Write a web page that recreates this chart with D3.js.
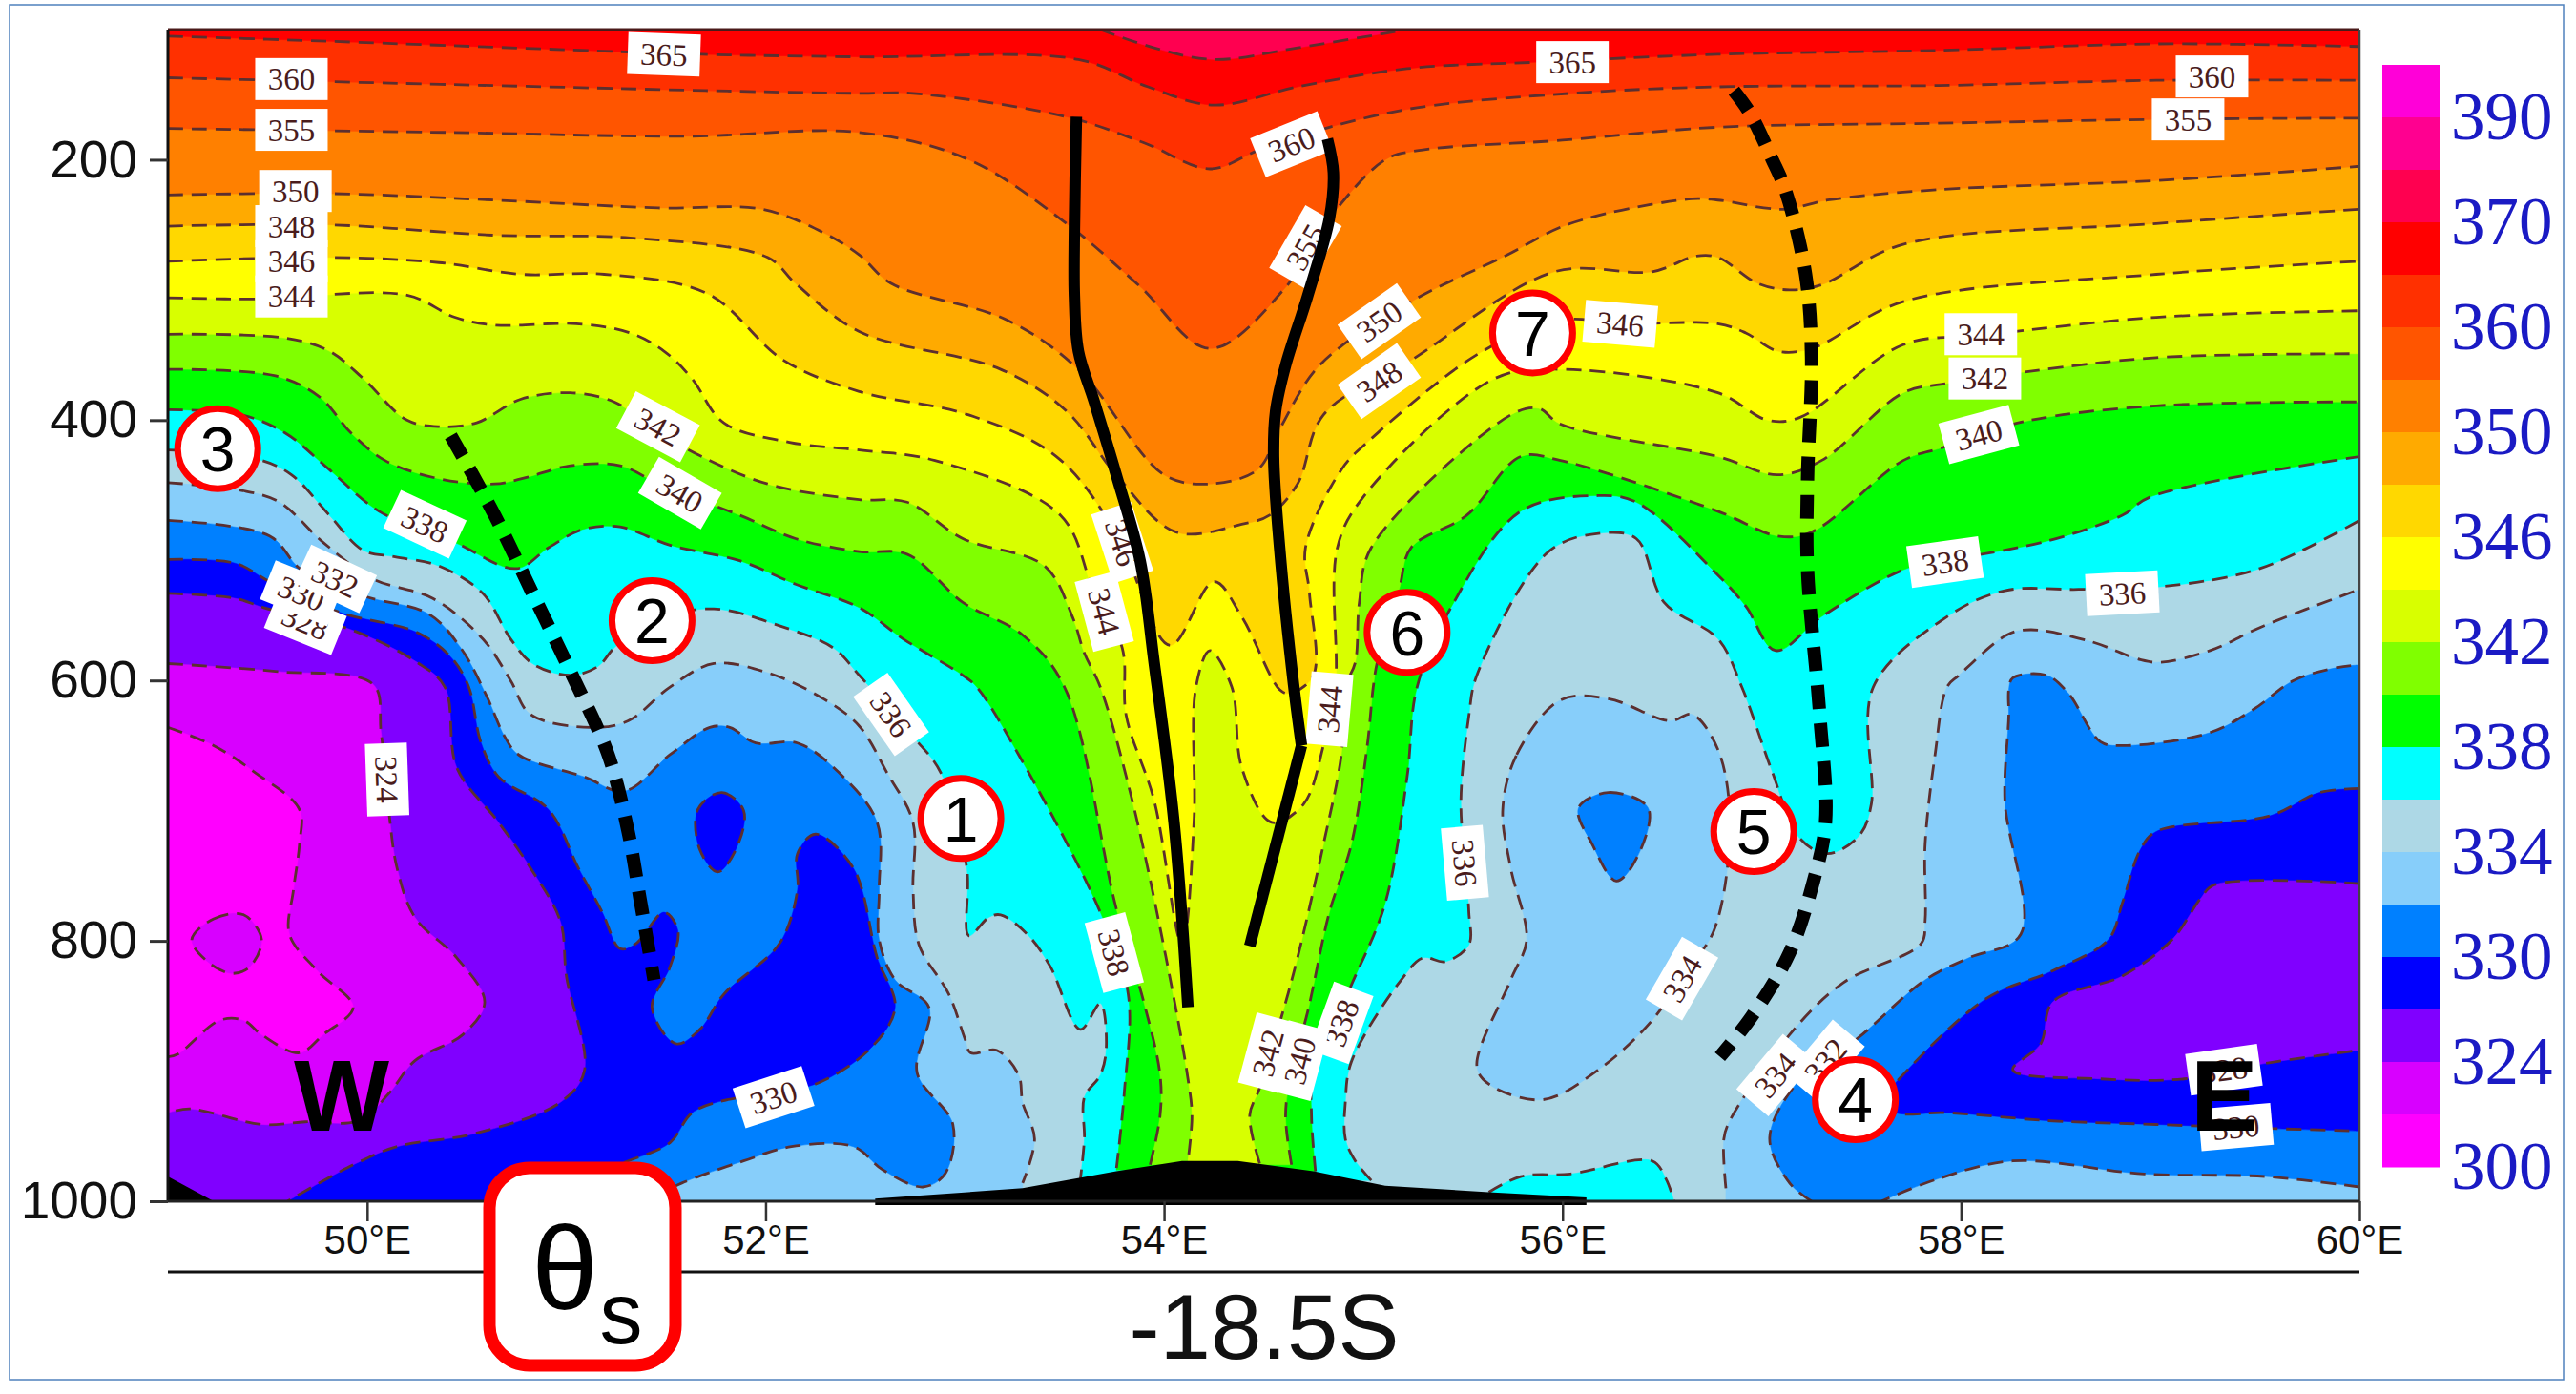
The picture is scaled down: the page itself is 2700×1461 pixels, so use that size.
<!DOCTYPE html>
<html><head><meta charset="utf-8">
<style>html,body{margin:0;padding:0;background:#fff}svg{display:block}</style>
<script src="https://cdnjs.cloudflare.com/ajax/libs/d3/7.8.5/d3.min.js"></script>
</head><body><script>
// ---------- colour scale ----------
const levels=[300,320,324,328,330,332,334,336,338,340,342,344,346,348,350,355,360,365,370,380,390];
const bandColors=["#FF00FF","#D800FF","#8000FF","#0000FF","#0080FF","#87CEFA","#ADD8E6","#00FFFF","#00FF00","#80FF00","#D8FF00","#FFFF00","#FFD800","#FFAA00","#FF8000","#FF5500","#FF3000","#FF0000","#FF0050","#FF0090","#FF00D8"];
const barLabels=[390,370,360,350,346,342,338,334,330,324,300];
const lonTicks=[50,52,54,56,58,60];
const presTicks=[200,400,600,800,1000];
// ---------- traced isentropes: [longitude E, pressure hPa] ----------
const iso370=[[53.68,100],[53.95,114],[54.25,123],[54.67,114],[55.22,100]];
const iso365=[[49,105],[49.81,109],[50.91,115],[51.68,119],[52.47,121],[53.57,123],[53.92,144],[54.25,158],[54.67,144],[55.22,130],[55.88,125],[56.78,119],[57.88,116],[58.98,111],[60,113]];
const iso360=[[49,137],[49.81,140],[50.91,144],[51.74,147],[52.47,149],[52.74,149],[53.51,167],[53.9,187],[54.23,207],[54.47,193],[54.83,175],[55.27,160],[56.04,149],[56.78,144],[57.88,143],[58.98,139],[60,139]];
const iso355=[[49,176],[50.4,179],[51.6,182],[52.47,179],[53.02,200],[53.51,249],[53.87,296],[54.23,345],[54.61,298],[54.83,245],[55.11,200],[55.27,193],[56,185],[56.78,175],[57.88,172],[58.98,169],[60,168]];
const iso350=[[49,227],[49.81,226],[50.64,231],[51.46,237],[51.98,238],[52.29,256],[52.47,273],[52.63,295],[53.21,323],[53.57,361],[54,442],[54.23,449],[54.47,438],[54.58,407],[54.78,358],[55.24,309],[55.71,274],[56.04,249],[56.65,230],[56.78,231],[57.11,238],[57.33,231],[57.88,223],[58.98,216],[60,205]];
const iso348=[[49,251],[49.81,250],[50.64,258],[51.32,260],[52.01,275],[52.15,295],[52.47,332],[53.18,361],[53.51,393],[53.76,442],[54.06,486],[54.39,480],[54.53,473],[54.67,449],[54.8,396],[55.24,354],[55.96,286],[56.45,286],[56.67,274],[56.78,275],[56.98,295],[57.14,300],[57.3,296],[57.71,265],[58.98,249],[60,238]];
const iso346=[[49,278],[49.81,275],[50.36,279],[50.77,288],[51.19,288],[51.71,303],[52.09,354],[52.47,378],[53.02,396],[53.46,428],[53.76,487],[54.03,573],[54.25,524],[54.39,551],[54.58,607],[54.63,610],[54.75,596],[54.73,533],[54.71,498],[54.89,438],[55.02,417],[55.6,347],[56.01,323],[56.29,326],[56.78,326],[56.92,333],[57.08,347],[57.25,345],[57.71,309],[58.98,288],[60,278]];
const iso344=[[49,306],[49.45,307],[50.2,304],[50.44,321],[50.64,327],[51.05,326],[51.32,333],[51.49,347],[51.63,368],[51.79,402],[52.12,417],[52.47,423],[52.85,431],[53.48,473],[53.65,533],[53.79,575],[53.81,627],[53.95,692],[54.09,803],[54.15,709],[54.16,605],[54.23,577],[54.34,605],[54.39,667],[54.54,709],[54.7,695],[54.8,650],[54.86,605],[54.87,498],[55,459],[55.66,368],[56.01,361],[56.78,379],[57.03,400],[57.19,398],[57.71,342],[58.1,335],[58.98,321],[60,316]];
const iso342L=[[49,334],[49.59,337],[49.81,347],[49.98,368],[50.2,400],[50.36,405],[50.55,402],[50.77,384],[51.02,379],[51.24,386],[51.46,409],[51.68,428],[52.01,449],[52.47,461],[52.71,463],[52.99,491],[53.4,512],[53.54,551],[53.6,579],[53.68,605],[53.84,692],[54.01,813],[54.12,906],[54.14,934],[54.12,969]];
const iso342R=[[54.48,971],[54.43,934],[54.48,913],[54.59,858],[54.67,813],[54.8,726],[54.89,657],[54.91,605],[54.96,586],[54.98,540],[55.04,498],[55.74,396],[55.88,391],[55.99,403],[56.78,428],[57.08,442],[57.3,431],[57.71,379],[57.92,372],[58.32,363],[58.98,352],[60,349]];
const iso340L=[[49,361],[49.54,366],[49.76,382],[49.92,410],[50.09,431],[50.36,445],[50.64,449],[50.8,444],[51.02,435],[51.27,435],[51.46,449],[51.57,456],[51.87,473],[52.15,491],[52.47,501],[52.71,503],[52.99,540],[53.29,565],[53.5,605],[53.76,775],[53.9,848],[53.98,903],[53.98,934],[53.93,972]];
const iso340R=[[54.64,972],[54.61,934],[54.64,900],[54.72,855],[54.83,778],[54.94,726],[55.02,650],[55.05,605],[55.07,586],[55.18,530],[55.24,498],[55.52,473],[55.79,428],[55.99,431],[56.78,470],[57.08,489],[57.25,486],[57.71,431],[57.91,421],[58.32,401],[58.98,389],[60,386]];
const iso338L=[[49,392],[49.37,396],[49.59,410],[49.81,438],[50.06,470],[50.44,494],[50.75,514],[50.91,498],[51.08,484],[51.27,482],[51.52,496],[51.87,508],[52.15,526],[52.47,544],[52.69,568],[52.99,596],[53.06,605],[53.27,657],[53.68,778],[53.82,841],[53.8,917],[53.76,976]];
const iso338R=[[54.76,977],[54.74,934],[54.75,900],[54.94,834],[55.11,771],[55.22,674],[55.27,605],[55.44,544],[55.79,470],[56.18,458],[56.37,463],[56.78,519],[56.92,543],[57.07,577],[57.3,551],[57.71,515],[57.92,508],[58.43,493],[58.81,473],[58.95,459],[60,428]];
const iso336L=[[49,423],[49.45,430],[49.62,442],[49.81,473],[49.98,500],[50.14,505],[50.36,512],[50.58,533],[50.72,568],[50.83,587],[51.02,596],[51.16,589],[51.24,575],[51.43,554],[51.74,545],[52.07,558],[52.34,575],[52.47,596],[52.74,643],[52.88,671],[53.01,744],[53.02,796],[53.12,782],[53.18,780],[53.32,796],[53.43,820],[53.58,868],[53.68,848],[53.71,882],[53.68,903],[53.6,920],[53.6,952],[53.58,983]];
const iso336R=[[55.04,984],[54.96,969],[54.91,952],[54.91,924],[54.94,893],[55.19,830],[55.3,813],[55.41,816],[55.53,803],[55.53,778],[55.51,740],[55.49,692],[55.53,627],[55.57,596],[55.93,501],[56.18,487],[56.37,491],[56.51,540],[56.78,568],[56.9,605],[57.05,669],[57.19,721],[57.33,733],[57.49,719],[57.55,695],[57.56,605],[57.93,551],[58.22,531],[58.59,530],[59,528],[59.5,514],[60,477]];
const iso336Patch=[[55.63,993],[55.79,981],[56.04,979],[56.45,969],[56.52,983],[56.56,1000]];
const iso334L=[[49,448],[49.37,454],[49.56,463],[49.78,494],[50.03,522],[50.33,537],[50.58,568],[50.72,600],[50.82,626],[51.12,636],[51.31,631],[51.52,605],[51.74,587],[52.01,594],[52.29,614],[52.47,635],[52.61,671],[52.74,709],[52.74,761],[52.77,803],[52.92,841],[53,875],[53.03,886],[53.16,884],[53.27,903],[53.29,924],[53.35,952],[53.29,986]];
const iso334C=[[55.7,699],[55.77,657],[55.99,615],[56.23,614],[56.54,631],[56.65,626],[56.78,653],[56.84,709],[56.76,792],[56.6,827],[56.45,861],[56.18,899],[55.9,922],[55.63,910],[55.57,896],[55.74,830],[55.82,799],[55.74,744]];
const iso334R=[[56.82,990],[56.81,952],[56.84,938],[57.14,872],[57.41,832],[57.8,802],[57.82,785],[57.82,726],[57.87,657],[57.93,605],[57.99,596],[58.23,565],[58.35,561],[58.65,570],[58.9,584],[59,586],[59.25,577],[59.52,558],[60,530]];
const iso332L=[[49,477],[49.51,489],[49.67,515],[49.98,535],[50.31,549],[50.47,575],[50.6,612],[50.69,643],[50.76,657],[51.09,674],[51.29,685],[51.52,657],[51.72,636],[51.82,636],[51.95,648],[52.16,648],[52.37,671],[52.56,709],[52.57,761],[52.57,799],[52.65,830],[52.82,851],[52.76,901],[52.94,941],[52.9,979],[52.79,989],[52.59,976],[52.44,958],[52.13,958],[51.89,969],[51.58,986],[51.4,1000]];
const iso332RA=[[57.25,1000],[57.14,986],[57.04,951],[57.2,905],[57.48,875],[57.82,830],[58.04,813],[58.3,795],[58.22,692],[58.24,627],[58.24,607],[58.26,598],[58.43,596],[58.54,610],[58.7,647],[58.81,650],[59.25,640],[59.47,622],[59.67,600],[59.89,590],[60,588]];
const iso332RB=[[60,989],[59.53,981],[58.92,979],[58.26,969],[57.88,983],[57.6,1000]];
const iso332Isle=[[56.08,698],[56.23,686],[56.43,698],[56.37,737],[56.27,754],[56.15,726]];
const iso330L=[[49,507],[49.34,510],[49.51,524],[49.87,548],[50.25,563],[50.42,582],[50.51,605],[50.57,647],[50.66,674],[50.91,699],[51.06,744],[51.18,778],[51.27,806],[51.35,802],[51.49,778],[51.56,792],[51.52,820],[51.43,851],[51.55,879],[51.67,868],[51.79,841],[52.07,802],[52.16,761],[52.16,733],[52.25,718],[52.44,744],[52.56,813],[52.65,851],[52.53,882],[52.25,910],[51.98,917],[51.64,931],[51.52,955],[51.31,969],[51,985],[50.9,1000]];
const iso330R=[[60,683],[59.8,686],[59.55,704],[58.98,716],[58.9,730],[58.81,771],[58.74,799],[58.46,823],[58.13,844],[57.69,906],[57.6,924],[57.67,932],[57.93,932],[58.43,938],[58.98,941],[59.53,944],[60,946]];
const iso330Isle=[[51.66,699],[51.78,686],[51.89,700],[51.85,730],[51.76,747],[51.67,730]];
const iso328L=[[49,533],[49.34,537],[49.48,544],[49.92,561],[50.25,586],[50.39,605],[50.45,667],[50.66,709],[50.82,744],[50.97,785],[51,827],[51.09,900],[50.97,924],[50.54,948],[50.15,958],[49.93,972],[49.6,1000]];
const iso328R=[[60,756],[59.27,757],[59.2,768],[59.06,799],[58.81,827],[58.46,847],[58.4,879],[58.26,899],[58.7,906],[59.12,906],[59.53,894],[60,884]];
const iso324=[[49,587],[49.54,593],[50.03,603],[50.07,640],[50.11,702],[50.15,744],[50.24,782],[50.45,813],[50.59,847],[50.48,872],[50.24,892],[50.11,917],[49.96,938],[49.69,939],[49.47,941],[49.11,929],[49,932]];
const iso320=[[49,636],[49.23,650],[49.44,671],[49.66,699],[49.66,726],[49.63,761],[49.61,795],[49.75,823],[49.93,851],[49.78,872],[49.66,886],[49.47,872],[49.38,861],[49.26,861],[49.05,887],[49,889]];
const iso320Isle=[[49.12,799],[49.23,783],[49.38,780],[49.47,799],[49.41,820],[49.32,825],[49.2,816]];
const terrain=[[52.55,1003],[52.55,998],[53.29,990],[53.76,977],[54.09,969],[54.37,969],[54.75,977],[55.11,988],[55.63,993],[56.12,997],[56.12,1003]];
const terrainWest=[[49,981],[49.23,1000],[49,1000]];
// ---------- axis lines drawn by the author ----------
const troughW=[[53.56,167],[53.55,253],[53.55,305],[53.57,347],[53.65,386],[53.76,442],[53.88,508],[53.95,586],[54.05,709],[54.12,851]];
const troughEUpper=[[54.82,184],[54.85,210],[54.83,245],[54.72,305],[54.61,358],[54.56,393],[54.55,428],[54.58,498],[54.65,603],[54.69,650]];
const troughELower=[[54.69,650],[54.43,804]];
const dashW=[[50.42,412],[50.64,473],[50.83,533],[51.02,593],[51.21,657],[51.31,716],[51.37,768],[51.44,830]];
const dashE=[[56.86,147],[56.94,164],[57.05,199],[57.12,224],[57.22,288],[57.25,351],[57.23,445],[57.23,515],[57.29,624],[57.32,709],[57.26,754],[57.14,809],[56.95,858],[56.79,889]];
// ---------- annotations ----------
const markers=[["1",52.98,706],["2",51.43,554],["3",49.25,422],["4",57.47,922],["5",56.96,716],["6",55.22,563],["7",55.85,333]];
const lineLabels=[
["365",51.49,119,2],["360",49.62,138,0],["355",49.62,177,0],["350",49.64,224,0],["348",49.62,251,0],["346",49.62,278,0],["344",49.62,305,0],
["342",51.46,405,28],["340",51.57,456,30],["338",50.29,480,25],["328",49.69,555,22],["330",49.67,533,22],["332",49.84,522,25],
["324",50.1,676,88],["336",52.63,626,55],["338",53.75,809,75],["330",52.04,920,-18],["344",53.7,547,75],["346",53.79,494,72],
["360",54.64,188,-22],["355",54.71,267,-60],["350",55.08,324,-35],["348",55.08,370,-35],["346",56.29,326,5],["365",56.05,125,0],
["344",54.83,622,-85],["338",54.89,863,-70],["342",54.52,886,-75],["340",54.68,892,-75],["336",55.51,740,85],["334",56.6,829,-60],
["334",57.07,903,-50],["332",57.32,892,-50],["360",59.26,136,0],["355",59.14,169,0],["344",58.1,334,0],["342",58.12,368,0],["340",58.09,411,-15],
["338",57.92,509,-8],["336",58.81,533,-3],["328",59.32,899,-8],["330",59.38,943,-5]];

const W=2700,H=1461,L=176,R=2473,T=31,B=1259;
const x=d3.scaleLinear().domain([49,60]).range([L,R]);
const y=d3.scaleLinear().domain([100,1000]).range([T,B]);
const band=d3.scaleThreshold().domain(levels.slice(1)).range(bandColors);
const svg=d3.select("body").append("svg").attr("width",W).attr("height",H).attr("viewBox",`0 0 ${W} ${H}`).style("font-family","'Liberation Sans',Arial,sans-serif");
svg.append("rect").attr("x",10).attr("y",5).attr("width",2677).attr("height",1441).attr("fill","#fff").attr("stroke","#4f81bd").attr("stroke-width",1.5);
svg.append("defs").append("clipPath").attr("id","plot").append("rect").attr("x",L).attr("y",T).attr("width",R-L).attr("height",B-T);

const curve=d3.line().x(d=>x(d[0])).y(d=>y(d[1])).curve(d3.curveCatmullRom.alpha(0.5));
const closedCurve=d3.line().x(d=>x(d[0])).y(d=>y(d[1])).curve(d3.curveCatmullRomClosed.alpha(0.5));
const straight=d3.line().x(d=>x(d[0])).y(d=>y(d[1]));
const skyEdge=[[60,100],[49,100]];
// area bounded by traced pieces, joined by straight runs along the frame
function area(pieces,tail){
  let s="";
  pieces.forEach((p,i)=>{const c=curve(p);s+=i?c.replace(/^M/,"L"):c;});
  (tail||[]).forEach(t=>{s+=`L${x(t[0])},${y(t[1])}`;});
  return s+"Z";
}
const g=svg.append("g").attr("clip-path","url(#plot)");
g.append("rect").attr("x",L).attr("y",T).attr("width",R-L).attr("height",B-T).attr("fill",band(334));
const layers=[
 [332,area([iso334L],[[53.29,1000],[49,1000]])],
 [332,area([iso334R],[[60,1000],[56.82,1000]])],
 [332,closedCurve(iso334C)],
 [330,area([iso332L],[[49,1000]])],
 [330,area([iso332RA,iso332RB],[])],
 [330,closedCurve(iso332Isle)],
 [328,area([iso330L],[[49,1000]])],
 [328,area([iso330R])],
 [328,closedCurve(iso330Isle)],
 [324,area([iso328L],[[49,1000]])],
 [324,area([iso328R])],
 [320,area([iso324])],
 [300,area([iso320])],
 [320,closedCurve(iso320Isle)],
 [336,area([iso336L,iso336R],skyEdge)],
 [336,area([iso336Patch],[[55.63,1000]])],
 [338,area([iso338L,iso338R],skyEdge)],
 [340,area([iso340L,iso340R],skyEdge)],
 [342,area([iso342L,iso342R],skyEdge)],
 [344,area([iso344],skyEdge)],
 [346,area([iso346],skyEdge)],
 [348,area([iso348],skyEdge)],
 [350,area([iso350],skyEdge)],
 [355,area([iso355],skyEdge)],
 [360,area([iso360],skyEdge)],
 [365,area([iso365],skyEdge)],
 [370,area([iso370])]
];
g.selectAll("path.fill").data(layers).join("path").attr("class","fill").attr("d",d=>d[1]).attr("fill",d=>band(d[0])).attr("stroke",d=>band(d[0])).attr("stroke-width",0.5);

const openLines=[iso370,iso365,iso360,iso355,iso350,iso348,iso346,iso344,iso342L,iso342R,iso340L,iso340R,iso338L,iso338R,iso336L,iso336R,iso336Patch,iso334L,iso334R,iso332L,iso332RA,iso332RB,iso330L,iso330R,iso328L,iso328R,iso324,iso320];
const closedLines=[iso334C,iso332Isle,iso330Isle,iso320Isle];
const dash={fill:"none",stroke:"#5c2f2f","stroke-width":2.8,"stroke-dasharray":"16 9"};
function applyStyle(sel,o){Object.entries(o).forEach(([k,v])=>sel.attr(k,v));return sel;}
applyStyle(g.selectAll("path.iso").data(openLines).join("path").attr("class","iso").attr("d",d=>curve(d)),dash);
applyStyle(g.selectAll("path.isoc").data(closedLines).join("path").attr("class","isoc").attr("d",d=>closedCurve(d)),dash);

// terrain
svg.append("path").attr("d",straight(terrain)+"Z").attr("fill","#000");
svg.append("path").attr("d",straight(terrainWest)+"Z").attr("fill","#000");

// contour labels
const lab=svg.selectAll("g.lab").data(lineLabels).join("g").attr("class","lab")
 .attr("transform",d=>`translate(${x(d[1])},${y(d[2])}) rotate(${d[3]})`);
lab.append("rect").attr("x",-38).attr("y",-22).attr("width",76).attr("height",44).attr("fill","#fff");
lab.append("text").attr("text-anchor","middle").attr("dy","0.35em").attr("font-family","'Liberation Serif',serif").attr("font-size",33).attr("fill","#4a1c1c").text(d=>d[0]);

// frame and axes
const frameG=svg.append("g");
frameG.append("line").attr("x1",L).attr("x2",R).attr("y1",T).attr("y2",T).attr("stroke","#4a1a1a").attr("stroke-width",3);
frameG.append("line").attr("x1",L).attr("x2",L).attr("y1",T).attr("y2",B).attr("stroke","#111").attr("stroke-width",3);
frameG.append("line").attr("x1",R).attr("x2",R).attr("y1",T).attr("y2",B).attr("stroke","#444").attr("stroke-width",2.5);
frameG.append("line").attr("x1",L).attr("x2",R).attr("y1",B).attr("y2",B).attr("stroke","#222").attr("stroke-width",3);

const ax=d3.axisLeft(y).tickValues(presTicks).tickSize(19).tickPadding(13).tickFormat(d3.format("d"));
const gy=svg.append("g").attr("transform",`translate(${L},0)`).call(ax);
gy.select(".domain").remove();
gy.selectAll("line").attr("stroke","#333").attr("stroke-width",3);
gy.selectAll("text").attr("font-size",55).attr("fill","#111").attr("font-family","'Liberation Sans',sans-serif");
const bx=d3.axisBottom(x).tickValues(lonTicks).tickSize(21).tickPadding(4).tickFormat(d=>d+"°E");
const gx=svg.append("g").attr("transform",`translate(0,${B})`).call(bx);
gx.select(".domain").remove();
gx.selectAll("line").attr("stroke","#333").attr("stroke-width",2.5);
gx.selectAll("text").attr("font-size",42).attr("fill","#111").attr("font-family","'Liberation Sans',sans-serif");
svg.append("line").attr("x1",L).attr("x2",R).attr("y1",1333).attr("y2",1333).attr("stroke","#111").attr("stroke-width",3);

// colour bar
const barY=d3.scaleBand().domain(levels.slice().reverse()).range([68,1223]);
svg.selectAll("rect.bar").data(levels.slice().reverse()).join("rect").attr("class","bar")
 .attr("x",2497).attr("width",60).attr("y",d=>barY(d)).attr("height",barY.bandwidth()+0.5).attr("fill",d=>band(d));
svg.selectAll("text.barl").data(barLabels).join("text").attr("class","barl").attr("x",2569)
 .attr("y",d=>barY(d)+barY.bandwidth()).attr("dy","0.33em").attr("font-family","'Liberation Serif',serif").attr("font-size",71).attr("fill","#1a1ac4").text(d=>d);

// thick axes of the cross-section
const thick={fill:"none",stroke:"#000","stroke-width":12};
applyStyle(svg.append("path").attr("d",curve(troughW)),thick);
applyStyle(svg.append("path").attr("d",curve(troughEUpper)),thick);
applyStyle(svg.append("path").attr("d",straight(troughELower)),thick);
applyStyle(svg.append("path").attr("d",curve(dashW)),{...thick,"stroke-width":14,"stroke-dasharray":"25 15"});
applyStyle(svg.append("path").attr("d",curve(dashE)),{...thick,"stroke-width":14,"stroke-dasharray":"25 15"});

// numbered circles
const mk=svg.selectAll("g.mk").data(markers).join("g").attr("class","mk").attr("transform",d=>`translate(${x(d[1])},${y(d[2])})`);
mk.append("circle").attr("r",42).attr("fill","#fff").attr("stroke","#f00").attr("stroke-width",7);
mk.append("text").attr("text-anchor","middle").attr("dy","0.36em").attr("font-size",66).attr("fill","#000").text(d=>d[0]);

// W, E
svg.append("text").attr("x",358).attr("y",1185).attr("text-anchor","middle").attr("font-weight","bold").attr("font-size",106).attr("fill","#000").text("W");
svg.append("text").attr("x",2296).attr("y",1185).attr("font-weight","bold").attr("font-size",106).attr("fill","#000").text("E");

// title
svg.append("text").attr("x",1325).attr("y",1424).attr("text-anchor","middle").attr("font-size",96).attr("fill","#111").text("-18.5S");
// theta box
svg.append("rect").attr("x",513).attr("y",1224).attr("width",195).attr("height",207).attr("rx",42).attr("fill","#fff").attr("stroke","#f00").attr("stroke-width",13);
svg.append("text").attr("x",592).attr("y",1372).attr("text-anchor","middle").attr("font-size",125).attr("fill","#000").text("θ");
svg.append("text").attr("x",651).attr("y",1408).attr("text-anchor","middle").attr("font-size",90).attr("fill","#000").text("s");
</script></body></html>
